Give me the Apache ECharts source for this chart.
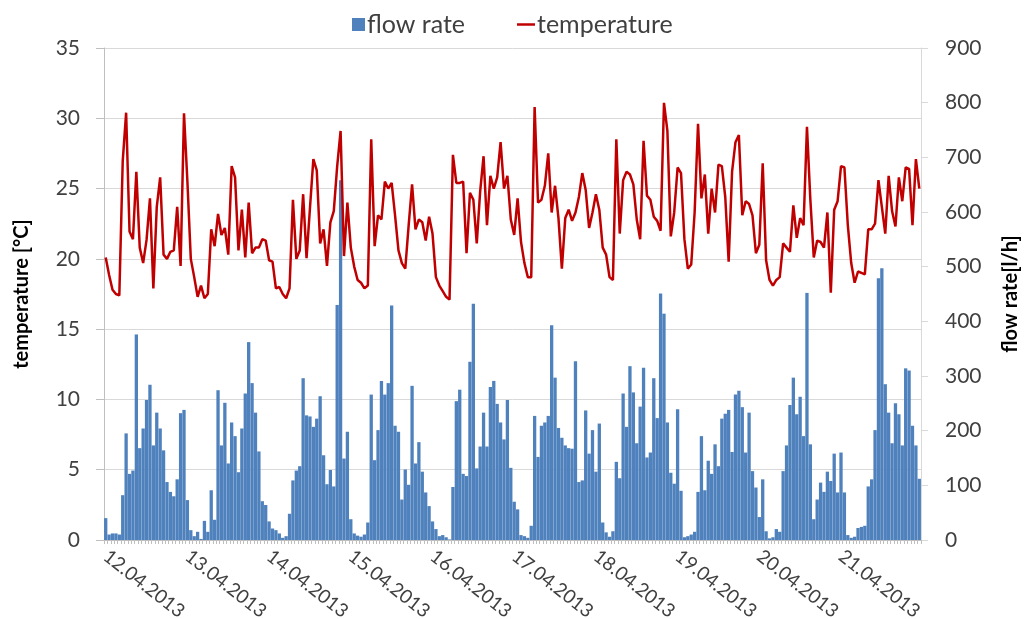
<!DOCTYPE html>
<html>
<head>
<meta charset="utf-8">
<script src="https://cdn.jsdelivr.net/npm/echarts@6/dist/echarts.min.js"></script>
<style>
  html, body { margin: 0; padding: 0; background: #ffffff; }
  #chart { width: 1026px; height: 619px; }
</style>
</head>
<body>
<div id="chart"></div>
<script>
// Days shown on the time axis (one label per day, hourly samples)
const days = ['12.04.2013', '13.04.2013', '14.04.2013', '15.04.2013', '16.04.2013',
              '17.04.2013', '18.04.2013', '19.04.2013', '20.04.2013', '21.04.2013'];

// Hourly flow rate [l/h]
const flowRate = [
  40, 10, 12, 12, 10, 82, 195, 121, 127, 376, 168, 204, 256, 284, 173, 233, 204, 164, 106, 88, 80, 111, 232, 238,
  73, 18, 7, 15, 2, 35, 15, 91, 37, 274, 173, 251, 140, 215, 190, 124, 204, 268, 362, 287, 233, 162, 71, 64,
  34, 21, 18, 12, 4, 7, 48, 109, 127, 135, 296, 228, 226, 207, 222, 263, 155, 102, 128, 98, 430, 658, 149, 198,
  38, 12, 8, 6, 10, 32, 266, 146, 201, 291, 266, 287, 429, 209, 198, 74, 129, 101, 282, 140, 179, 125, 87, 62,
  34, 20, 7, 9, 5, 1, 97, 254, 275, 121, 117, 326, 432, 131, 171, 233, 171, 280, 291, 249, 215, 184, 256, 132,
  70, 56, 9, 7, 4, 26, 227, 152, 209, 215, 227, 393, 297, 205, 187, 173, 168, 167, 327, 106, 109, 237, 158, 201,
  125, 213, 32, 14, 6, 16, 143, 113, 268, 207, 318, 270, 177, 244, 315, 151, 160, 296, 223, 451, 414, 215, 123, 103,
  239, 90, 5, 7, 10, 15, 88, 190, 91, 145, 121, 175, 135, 222, 231, 238, 161, 266, 273, 243, 160, 233, 126, 96,
  42, 111, 16, 3, 5, 20, 15, 126, 173, 247, 297, 230, 262, 190, 452, 175, 38, 74, 105, 88, 125, 108, 158, 87,
  160, 87, 9, 4, 6, 22, 24, 26, 98, 111, 201, 479, 497, 285, 233, 177, 250, 230, 173, 314, 310, 209, 173, 112
];

// Hourly temperature [°C]
const temperature = [
  20.1, 18.85, 17.8, 17.5, 17.4, 26.95, 30.4, 21.95, 21.4, 26.2, 20.8, 19.7, 21.35, 24.3, 17.9, 23.7, 25.8, 20.3, 20.0, 20.5, 20.6, 23.7, 19.5, 30.35,
  25.5, 20.0, 18.7, 17.3, 18.1, 17.2, 17.5, 22.1, 20.9, 23.2, 21.7, 22.2, 20.3, 26.6, 25.8, 20.6, 23.5, 20.1, 24.0, 20.4, 20.8, 20.8, 21.4, 21.3,
  19.9, 19.8, 17.9, 18.0, 17.5, 17.2, 17.9, 24.2, 20.0, 20.6, 24.6, 20.05, 23.6, 27.1, 26.3, 21.1, 22.1, 19.5, 22.6, 23.4, 26.6, 29.1, 20.2, 24.0,
  20.8, 19.45, 18.5, 18.3, 17.9, 18.1, 28.5, 20.9, 23.1, 22.8, 25.5, 25.0, 25.4, 23.1, 20.6, 19.7, 19.3, 22.4, 25.3, 22.1, 22.8, 22.6, 21.3, 23.0,
  21.8, 18.7, 18.1, 17.7, 17.3, 17.1, 27.4, 25.4, 25.4, 25.5, 20.4, 24.7, 24.2, 21.1, 24.8, 27.3, 22.4, 25.9, 25.0, 25.8, 28.3, 25.0, 25.9, 22.8,
  21.7, 24.3, 21.2, 19.7, 18.7, 18.7, 30.8, 24.0, 24.2, 25.2, 27.5, 23.3, 25.2, 22.9, 19.3, 22.9, 23.5, 22.7, 23.3, 24.4, 26.1, 24.9, 22.2, 23.3,
  24.6, 23.5, 20.8, 20.3, 18.7, 18.5, 28.5, 21.8, 25.6, 26.2, 26.0, 25.3, 22.8, 21.4, 28.4, 24.5, 24.2, 23.0, 22.7, 22.0, 31.1, 29.1, 21.6, 23.3,
  26.5, 26.1, 21.4, 19.3, 19.6, 23.3, 29.6, 24.3, 26.0, 21.8, 25.0, 23.3, 26.7, 26.6, 24.4, 19.8, 26.2, 28.3, 28.8, 23.1, 24.1, 23.9, 23.1, 20.4,
  21.0, 26.8, 19.9, 18.5, 18.1, 18.5, 18.7, 21.1, 20.8, 20.5, 23.8, 21.5, 22.9, 22.4, 29.4, 24.2, 20.1, 21.3, 21.2, 20.8, 23.3, 17.6, 23.5, 24.1,
  26.6, 26.5, 22.4, 19.7, 18.3, 19.1, 19.0, 18.9, 22.1, 22.1, 22.5, 25.6, 23.7, 21.8, 25.9, 23.4, 22.3, 25.8, 24.1, 26.5, 26.4, 22.4, 27.1, 25.0
];

// One category per hour: "dd.mm.yyyy hh:00"
const hours = [];
days.forEach(d => {
  for (let h = 0; h < 24; h++) hours.push(d + ' ' + String(h).padStart(2, '0') + ':00');
});

const textColor = '#404040';
const gridColor = '#d9d9d9';
const axisColor = '#bfbfbf';
const fontFamily = 'Lato, "Open Sans", sans-serif';
const legendText = { fontSize: 25, color: textColor, fontFamily: fontFamily, padding: [0, 0, 0, -3] };

const chart = echarts.init(document.getElementById('chart'), null, { renderer: 'canvas' });

chart.setOption({
  animation: false,
  textStyle: { fontFamily: fontFamily },
  // Two legend blocks: a square swatch for the bars, a short line for the temperature
  legend: [
    {
      top: 12, left: 352, padding: 0,
      icon: 'rect', itemWidth: 13, itemHeight: 13,
      textStyle: legendText,
      data: [{ name: 'flow rate', itemStyle: { color: '#4f81bd' } }]
    },
    {
      top: 12, left: 517, padding: 0,
      icon: 'rect', itemWidth: 18, itemHeight: 2.5,
      textStyle: legendText,
      data: [{ name: 'temperature', itemStyle: { color: '#c00000' } }]
    }
  ],
  grid: { left: 104, right: 105, top: 48, bottom: 79, containLabel: false, outerBoundsMode: 'none' },
  xAxis: {
    type: 'category',
    data: hours,
    boundaryGap: true,
    axisLine: { lineStyle: { color: axisColor, width: 1 } },
    axisTick: { show: true, interval: 0, length: 4, lineStyle: { color: axisColor } },
    axisLabel: {
      interval: 23,
      rotate: -38,
      margin: 14,
      fontSize: 19,
      color: textColor,
      fontFamily: fontFamily,
      formatter: v => v.split(' ')[0]
    },
    splitLine: { show: false }
  },
  yAxis: [
    {
      type: 'value',
      position: 'left',
      min: 0, max: 35, interval: 5,
      name: 'temperature [°C]',
      nameLocation: 'middle',
      nameGap: 72,
      nameTextStyle: { fontSize: 20, fontWeight: 'bold', color: '#000000', fontFamily: fontFamily },
      axisLine: { show: true, lineStyle: { color: axisColor } },
      axisTick: { show: true, length: 8, lineStyle: { color: axisColor } },
      axisLabel: { fontSize: 21, color: textColor, margin: 24, fontFamily: fontFamily },
      splitLine: { show: true, lineStyle: { color: gridColor, width: 1 } }
    },
    {
      type: 'value',
      position: 'right',
      min: 0, max: 900, interval: 100,
      name: 'flow rate[l/h]',
      nameLocation: 'middle',
      nameGap: 80,
      nameTextStyle: { fontSize: 20, fontWeight: 'bold', color: '#000000', fontFamily: fontFamily },
      axisLine: { show: true, lineStyle: { color: gridColor } },
      axisTick: { show: true, length: 7, lineStyle: { color: gridColor } },
      axisLabel: { fontSize: 21, color: textColor, margin: 24, fontFamily: fontFamily },
      splitLine: { show: false }
    }
  ],
  series: [
    {
      name: 'flow rate',
      type: 'bar',
      yAxisIndex: 1,
      data: flowRate,
      barCategoryGap: '3%',
      itemStyle: { color: '#4f81bd' },
      z: 2
    },
    {
      name: 'temperature',
      type: 'line',
      yAxisIndex: 0,
      data: temperature,
      symbol: 'none',
      lineStyle: { color: '#c00000', width: 2.5 },
      itemStyle: { color: '#c00000' },
      z: 3
    }
  ]
});
</script>
</body>
</html>
